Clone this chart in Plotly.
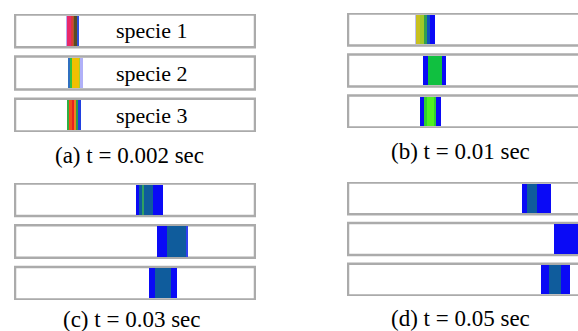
import plotly.graph_objects as go

# ---------------- data ----------------
captions = ["(a) t = 0.002 sec", "(b) t = 0.01 sec", "(c) t = 0.03 sec", "(d) t = 0.05 sec"]
species = ["specie 1", "specie 2", "specie 3"]
channel_length = 240
# band front / rear position along the channel (pixels of the channel), per species
band_start_a = [51, 53, 52]
band_end_a = [64, 68, 66]
band_start_b = [67, 75, 72]
band_end_b = [87, 98, 93]
band_start_c = [121, 142, 134]
band_end_c = [148, 173, 162]
band_start_d = [174, 206, 193]
band_end_d = [203, 242, 222]

# ---------------- styles ----------------
BL = "#0a0af6"
TE = "#0f5c9c"
profiles = [
    [  # a
        [("#b8a8f0", .08), ("#e8286a", .3), ("#d83a3a", .12), ("#a85a2a", .15), ("#5a4a22", .17), ("#3050d8", .18)],
        [("#3070c0", .1), ("#30c040", .15), ("#f0c000", .45), ("#a0d030", .12), ("#b0b0f8", .18)],
        [("#30b040", .15), ("#f05018", .2), ("#e82020", .15), ("#f08020", .15), ("#30a040", .15), ("#2040e0", .2)],
    ],
    [  # b
        [("#c0c0f0", .05), ("#c8c020", .18), ("#a0c828", .2), ("#30a050", .17), ("#1050c0", .15), (BL, .25)],
        [(BL, .22), ("#10c040", .6), (BL, .18)],
        [(BL, .2), ("#30d030", .15), ("#50f020", .3), ("#30d030", .1), (BL, .25)],
    ],
    [  # c
        [(BL, .1), (TE, .12), ("#30a060", .06), (TE, .35), (BL, .37)],
        [(BL, .32), (TE, .6), ("#3040f0", .08)],
        [(BL, .22), (TE, .55), (BL, .23)],
    ],
    [  # d
        [(BL, .17), (TE, .33), (BL, .5)],
        [(BL, 1.0)],
        [(BL, .28), (TE, .4), (BL, .32)],
    ],
]

W, H = 578, 331
# panel geometry in pixels: x-domain left/right, top/bottom, x-range
geom = [
    dict(x0=14, x1=256, top=14, bot=132, xr=[-1, 241]),
    dict(x0=347, x1=578, top=13, bot=128, xr=[-1, 230]),
    dict(x0=14, x1=256, top=183, bot=300, xr=[-1, 241]),
    dict(x0=347, x1=578, top=182, bot=296, xr=[-1, 230]),
]
caption_pos = [(129, 155), (460, 152), (132, 319), (460, 318)]

starts = [band_start_a, band_start_b, band_start_c, band_start_d]
ends = [band_end_a, band_end_b, band_end_c, band_end_d]

fig = go.Figure()
layout = {}
rows = [0, 1, 2]
for p in range(4):
    g = geom[p]
    xa = "x" if p == 0 else f"x{p+1}"
    ya = "y" if p == 0 else f"y{p+1}"
    # channels
    fig.add_trace(go.Bar(
        orientation="h", y=rows, base=[0] * 3, x=[channel_length] * 3, width=0.78,
        marker=dict(color="white", line=dict(color="#ababab", width=2.5)),
        xaxis=xa, yaxis=ya, hoverinfo="skip", showlegend=False))
    # bands: stripes
    ys, bs, xs, cs = [], [], [], []
    for r in rows:
        s, e = starts[p][r], ends[p][r]
        pos = s
        for col, frac in profiles[p][r]:
            w = (e - s) * frac
            ys.append(r); bs.append(pos); xs.append(w); cs.append(col)
            pos += w
    fig.add_trace(go.Bar(
        orientation="h", y=ys, base=bs, x=xs, width=0.72,
        marker=dict(color=cs, line=dict(width=0)),
        xaxis=xa, yaxis=ya, hoverinfo="skip", showlegend=False))
    kx = "xaxis" if p == 0 else f"xaxis{p+1}"
    ky = "yaxis" if p == 0 else f"yaxis{p+1}"
    layout[kx] = dict(domain=[g["x0"] / W, g["x1"] / W], range=g["xr"], visible=False,
                      anchor=ya, fixedrange=True)
    layout[ky] = dict(domain=[1 - g["bot"] / H, 1 - g["top"] / H], range=[2.4, -0.4],
                      visible=False, anchor=xa, fixedrange=True)

annotations = []
for r in rows:
    annotations.append(dict(x=136, y=r, xref="x", yref="y", text=species[r], showarrow=False,
                            font=dict(family="Liberation Serif", size=22, color="black"),
                            xanchor="center", yanchor="middle"))
for p in range(4):
    cx, cy = caption_pos[p]
    annotations.append(dict(x=cx / W, y=1 - cy / H, xref="paper", yref="paper", text=captions[p],
                            showarrow=False, xanchor="center", yanchor="middle",
                            font=dict(family="Liberation Serif", size=23, color="black")))

fig.update_layout(**layout)
fig.update_layout(width=W, height=H, margin=dict(l=0, r=0, t=0, b=0),
                  paper_bgcolor="white", plot_bgcolor="rgba(0,0,0,0)",
                  barmode="overlay", bargap=0, annotations=annotations)
fig.write_html("out.html", config={"displayModeBar": False, "staticPlot": True},
               post_script="document.body.style.margin='0';document.body.style.overflow='hidden';")
